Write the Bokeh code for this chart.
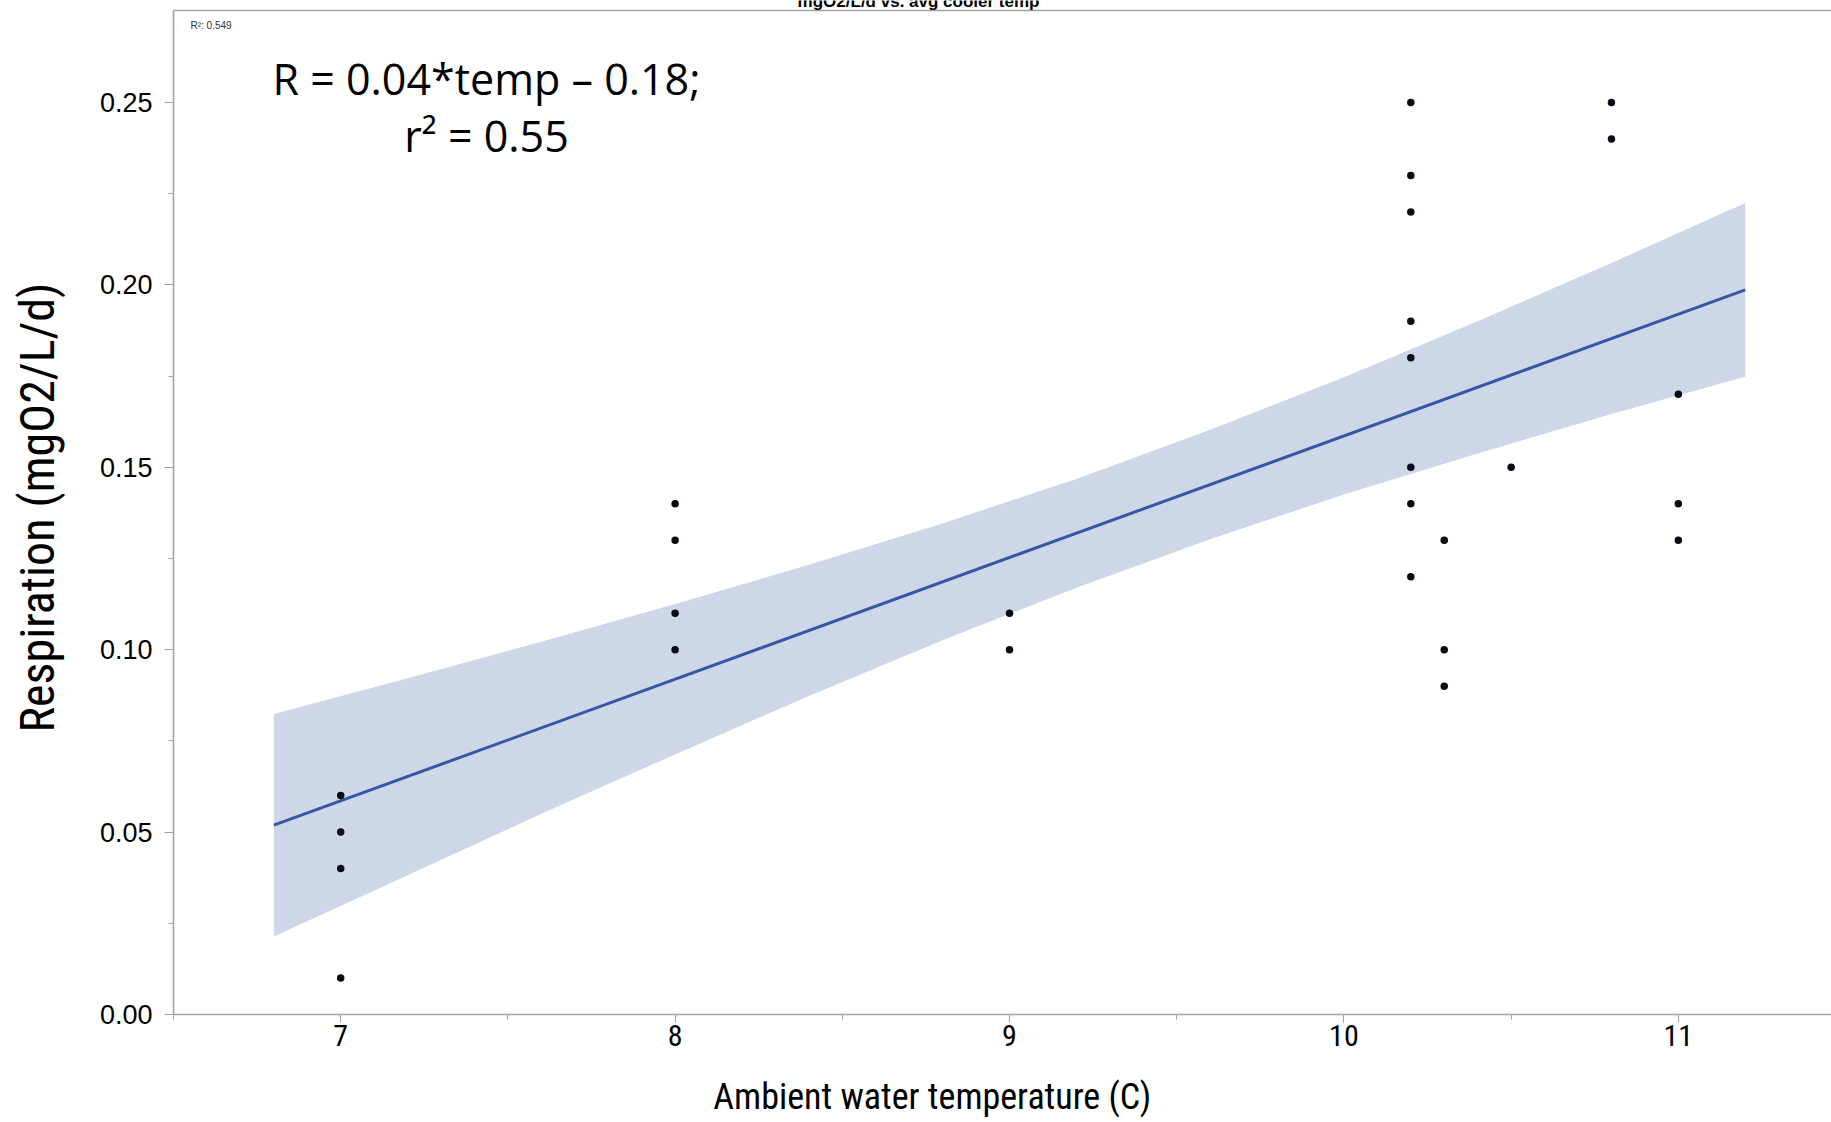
from bokeh.plotting import figure
from bokeh.models import FixedTicker, LinearAxis, Label, Range1d, Span
from bokeh.embed import file_html
from bokeh.resources import INLINE

# Respiration measurements against ambient water temperature
temp = [7, 7, 7, 7,
        8, 8, 8, 8,
        9, 9,
        10.2, 10.2, 10.2, 10.2, 10.2, 10.2, 10.2, 10.2,
        10.3, 10.3, 10.3,
        10.5,
        10.8, 10.8,
        11, 11, 11]
resp = [0.06, 0.05, 0.04, 0.01,
        0.14, 0.13, 0.11, 0.10,
        0.11, 0.10,
        0.25, 0.23, 0.22, 0.19, 0.18, 0.15, 0.14, 0.12,
        0.13, 0.10, 0.09,
        0.15,
        0.25, 0.24,
        0.17, 0.14, 0.13]

# fitted line end points
fit_x = [6.8, 11.2]
fit_y = [0.0519, 0.1986]

# 95% confidence band of the fit
band_x = [6.8, 7.2, 7.6, 8.0, 8.4, 8.8, 9.2, 9.6, 10.0, 10.4, 10.8, 11.2]
band_hi = [0.0824, 0.0922, 0.1022, 0.1125, 0.1233, 0.1346, 0.1468, 0.1603, 0.1747, 0.1900, 0.2060, 0.2224]
band_lo = [0.0214, 0.0382, 0.0550, 0.0713, 0.0873, 0.1026, 0.1170, 0.1303, 0.1425, 0.1538, 0.1646, 0.1748]

x_ticks = [7, 8, 9, 10, 11]
x_minor = [6.5, 7.5, 8.5, 9.5, 10.5, 11.5]
y_ticks = [0.0, 0.05, 0.10, 0.15, 0.20, 0.25]
y_tick_labels = ["0.00", "0.05", "0.10", "0.15", "0.20", "0.25"]
y_minor = [0.025, 0.075, 0.125, 0.175, 0.225]
y_box_top = 0.2752

title_text = "mgO2/L/d vs. avg cooler temp"
x_title = "Ambient water temperature (C)"
y_title = "Respiration (mgO2/L/d)"
eq_line1 = "R = 0.04*temp \u2013 0.18;"
eq_line2 = "r\u00b2 = 0.55"
r2_note = "R\u00b2: 0.549"

AXIS_GREY = "#a3a3a3"
NARROW = "'Liberation Sans Narrow', 'Roboto Condensed', 'DejaVu Sans Condensed', 'Liberation Sans', sans-serif"
ARIAL = "'Liberation Sans', Arial, sans-serif"

p = figure(width=1831, height=1122, output_backend="svg", toolbar_location=None,
           x_range=Range1d(6.5, 11.458), y_range=Range1d(0.0, 0.27794),
           min_border_left=173, min_border_right=0, min_border_top=0, min_border_bottom=108,
           x_axis_type=None, y_axis_type=None)
p.outline_line_color = None
p.background_fill_color = "white"
p.border_fill_color = "white"
p.xgrid.visible = False
p.ygrid.visible = False

# confidence band and fitted line
p.varea(x=band_x, y1=band_lo, y2=band_hi, fill_color="#ced7e8", fill_alpha=1.0)
p.line(x=fit_x, y=fit_y, line_color="#3656a6", line_width=3)
p.scatter(x=temp, y=resp, size=7.5, fill_color="#050a14", line_color=None)

# axes
xaxis = LinearAxis(ticker=FixedTicker(ticks=x_ticks, minor_ticks=x_minor))
xaxis.axis_line_color = AXIS_GREY
xaxis.axis_line_width = 1.6
xaxis.major_tick_line_color = AXIS_GREY
xaxis.minor_tick_line_color = AXIS_GREY
xaxis.major_tick_in = 0
xaxis.major_tick_out = 8
xaxis.minor_tick_in = 0
xaxis.minor_tick_out = 5
xaxis.major_label_text_font = NARROW
xaxis.major_label_text_font_size = "30px"
xaxis.major_label_text_color = "black"
xaxis.major_label_standoff = 2
# trailing no-break spaces pull the centred title a little to the left
xaxis.axis_label = x_title + "\u00a0" * 17
xaxis.axis_label_text_font = NARROW
xaxis.axis_label_text_font_size = "36px"
xaxis.axis_label_text_font_style = "normal"
xaxis.axis_label_text_color = "black"
xaxis.axis_label_standoff = 27
p.add_layout(xaxis, "below")

yaxis = LinearAxis(ticker=FixedTicker(ticks=y_ticks, minor_ticks=y_minor), bounds=(0.0, y_box_top))
yaxis.major_label_overrides = {t: s for t, s in zip(y_ticks, y_tick_labels)}
yaxis.axis_line_color = AXIS_GREY
yaxis.axis_line_width = 1.6
yaxis.major_tick_line_color = AXIS_GREY
yaxis.minor_tick_line_color = AXIS_GREY
yaxis.major_tick_in = 0
yaxis.major_tick_out = 9
yaxis.minor_tick_in = 0
yaxis.minor_tick_out = 5
yaxis.major_label_text_font = ARIAL
yaxis.major_label_text_font_size = "27px"
yaxis.major_label_text_color = "black"
yaxis.major_label_standoff = 12
yaxis.axis_label = y_title
yaxis.axis_label_text_font = NARROW
yaxis.axis_label_text_font_size = "48px"
yaxis.axis_label_text_font_style = "normal"
yaxis.axis_label_text_color = "black"
yaxis.axis_label_standoff = 31
p.add_layout(yaxis, "left")

# top edge of the plot box
p.add_layout(Span(location=y_box_top, dimension="width", line_color=AXIS_GREY, line_width=1.6))

# texts
p.add_layout(Label(x=8.7279, y=0.27780, text=title_text, text_font=ARIAL,
                   text_font_style="bold", text_font_size="17px", text_align="center",
                   text_baseline="alphabetic", text_color="black"))
p.add_layout(Label(x=6.5508, y=0.27100, text=r2_note, text_font=ARIAL,
                   text_font_size="10px", text_align="left",
                   text_baseline="alphabetic", text_color="#333333"))
p.add_layout(Label(x=7.436, y=0.25655, text=eq_line1, text_font="Open Sans",
                   text_font_size="43px", text_align="center",
                   text_baseline="alphabetic", text_color="black"))
p.add_layout(Label(x=7.436, y=0.24095, text=eq_line2, text_font="Open Sans",
                   text_font_size="43px", text_align="center",
                   text_baseline="alphabetic", text_color="black"))

open("out.html", "w").write(file_html(p, INLINE))
